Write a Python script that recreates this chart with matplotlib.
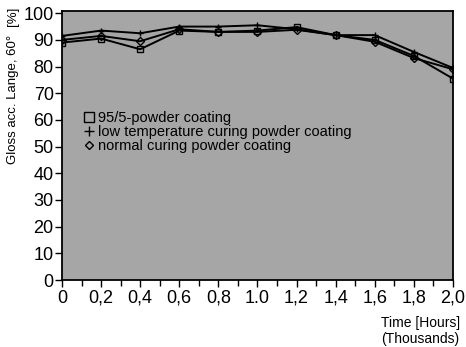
import matplotlib
matplotlib.use("Agg")
import matplotlib.pyplot as plt
from matplotlib.lines import Line2D
from matplotlib.ticker import MultipleLocator

plt.rcParams['font.family'] = ['Liberation Sans', 'DejaVu Sans']

# Exposure time (thousands of hours)
time_k = [0.0, 0.2, 0.4, 0.6, 0.8, 1.0, 1.2, 1.4, 1.6, 1.8, 2.0]

# Gloss retention (Lange, 60°) in %
gloss_95_5 = [89.0, 90.5, 86.5, 93.5, 93.0, 93.5, 94.8, 91.8, 90.0, 84.0, 75.5]
gloss_low_temp = [91.5, 93.5, 92.5, 95.0, 95.0, 95.5, 94.0, 91.8, 91.8, 85.5, 79.5]
gloss_normal = [90.0, 91.5, 89.5, 94.0, 93.0, 93.0, 93.8, 91.8, 89.3, 83.2, 79.0]

x_tick_values = [0.0, 0.2, 0.4, 0.6, 0.8, 1.0, 1.2, 1.4, 1.6, 1.8, 2.0]
x_tick_labels = ["0", "0,2", "0,4", "0,6", "0,8", "1.0", "1,2", "1,4", "1,6", "1,8", "2,0"]
y_tick_values = [0, 10, 20, 30, 40, 50, 60, 70, 80, 90, 100]

fig = plt.figure(figsize=(4.66, 3.47), dpi=100)
ax = fig.add_axes([0.133, 0.193, 0.839, 0.775])
ax.set_facecolor('#a6a6a6')

line_kw = dict(color='black', linewidth=1.4, markersize=5, markerfacecolor='none',
               markeredgecolor='black', markeredgewidth=1.0)
ax.plot(time_k, gloss_95_5, marker='s', **line_kw)
ax.plot(time_k, gloss_low_temp, marker='+', **line_kw)
ax.plot(time_k, gloss_normal, marker='D', **dict(line_kw, markersize=4))

ax.set_xlim(0, 2.0)
ax.set_ylim(0, 100.8)
ax.set_xticks(x_tick_values)
ax.set_xticklabels(x_tick_labels)
ax.xaxis.set_minor_locator(MultipleLocator(0.1))
ax.set_yticks(y_tick_values)

ax.tick_params(axis='both', which='major', labelsize=13, length=5, width=1,
               direction='out', pad=1)
ax.tick_params(axis='x', which='minor', length=4, width=1, direction='out')
ax.tick_params(axis='x', which='major', pad=2)
for sp in ax.spines.values():
    sp.set_linewidth(1.3)

handles = [
    Line2D([], [], linestyle='none', marker='s', markersize=6.5, markerfacecolor='none',
           markeredgecolor='black'),
    Line2D([], [], linestyle='none', marker='+', markersize=7.5, markeredgecolor='black'),
    Line2D([], [], linestyle='none', marker='D', markersize=4.5, markerfacecolor='none',
           markeredgecolor='black'),
]
labels = ["95/5-powder coating",
          "low temperature curing powder coating",
          "normal curing powder coating"]
ax.legend(handles, labels, loc='upper left', bbox_to_anchor=(0.04, 0.655),
          frameon=False, fontsize=10.5, handlelength=0.6, handletextpad=0.3,
          labelspacing=0.0, borderpad=0)

fig.text(0.028, 0.712, "Gloss acc. Lange, 60°", rotation=90, ha='center', va='center',
         fontsize=9.5)
fig.text(0.028, 0.953, "[%]", rotation=90, ha='center', va='center', fontsize=9.5)
fig.text(0.988, 0.004, "Time [Hours]\n(Thousands)", ha='right', va='bottom',
         fontsize=10, linespacing=1.15, multialignment='left')

fig.savefig("out.png", dpi=100)
